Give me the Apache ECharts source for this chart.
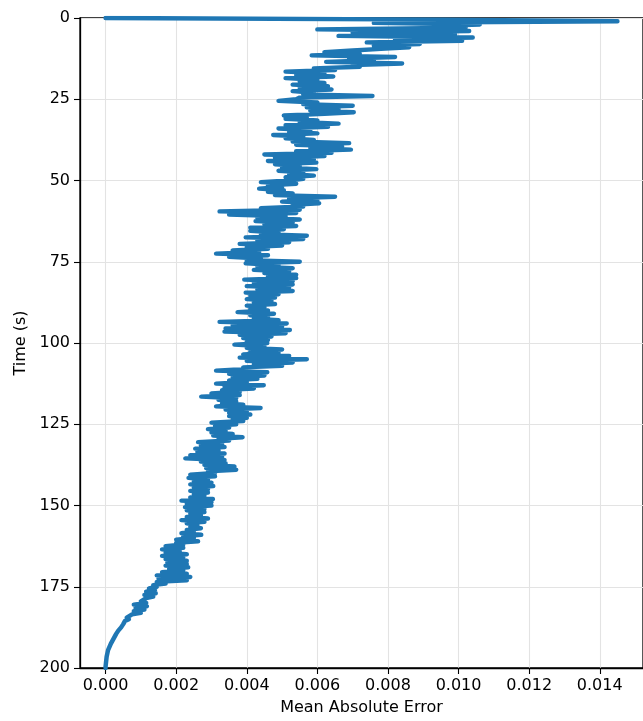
<!DOCTYPE html>
<html>
<head>
<meta charset="utf-8">
<script src="https://cdn.jsdelivr.net/npm/echarts@6/dist/echarts.min.js"></script>
<style>html,body{margin:0;padding:0;background:#fff;overflow:hidden}#c{width:643px;height:721px}</style>
</head>
<body>
<div id="c"></div>
<script>
// Sampling step of the time axis (s)
const timeStep = 0.5;
// Mean absolute error, one value every 0.5 s from t=0 to t=200
const mae = [
0, 0.0096, 0.0145, 0.0076, 0.0106, 0.0093, 0.0102, 0.0060, 0.0103, 0.0070,
0.0099, 0.0066, 0.0104, 0.0082, 0.0101, 0.0074, 0.0089, 0.0076, 0.0086, 0.0078,
0.0070, 0.0062, 0.0072, 0.00584, 0.0082, 0.0069, 0.0076, 0.00625, 0.0084, 0.0070,
0.0072, 0.0059, 0.0065, 0.0051, 0.0062, 0.0054, 0.00645, 0.0051, 0.0060, 0.0055,
0.0062, 0.0053, 0.0063, 0.0055, 0.0064, 0.0053, 0.0059, 0.0056, 0.00756, 0.0055,
0.0054, 0.0049, 0.0060, 0.0056, 0.0070, 0.0057, 0.0066, 0.0058, 0.00703, 0.0062,
0.00505, 0.0057, 0.0051, 0.0060, 0.0055, 0.0066, 0.0051, 0.0063, 0.0049, 0.0058,
0.0052, 0.0060, 0.00475, 0.0056, 0.0051, 0.0059, 0.0053, 0.0069, 0.0054, 0.0067,
0.0058, 0.00695, 0.0054, 0.0064, 0.0045, 0.0062, 0.0048, 0.0059, 0.0046, 0.00597,
0.0048, 0.0055, 0.0050, 0.00597, 0.0049, 0.0056, 0.0052, 0.0059, 0.0051, 0.0056,
0.0052, 0.0044, 0.0054, 0.0046, 0.0050, 0.00435, 0.00505, 0.0046, 0.0053, 0.0048,
0.0065, 0.0052, 0.0060, 0.0050, 0.00605, 0.0053, 0.0056, 0.0044, 0.0055, 0.00323,
0.0054, 0.0035, 0.0051, 0.0043, 0.0055, 0.00425, 0.0053, 0.0045, 0.0054, 0.0041,
0.00505, 0.0041, 0.0049, 0.0044, 0.0057, 0.00397, 0.0056, 0.0043, 0.0052, 0.0038,
0.0050, 0.0040, 0.0046, 0.0036, 0.00435, 0.00313, 0.0046, 0.0035, 0.0044, 0.0040,
0.0055, 0.00397, 0.0049, 0.0043, 0.0053, 0.0042, 0.0052, 0.0045, 0.0054, 0.0046,
0.0054, 0.00393, 0.0053, 0.0042, 0.0053, 0.0040, 0.0052, 0.0043, 0.0053, 0.00397,
0.0049, 0.0041, 0.0048, 0.0040, 0.0047, 0.0042, 0.0048, 0.0040, 0.0045, 0.0041,
0.0046, 0.00374, 0.00477, 0.0041, 0.0046, 0.0042, 0.0049, 0.00323, 0.00513, 0.0036,
0.0050, 0.0034, 0.00522, 0.00337, 0.0051, 0.0038, 0.0047, 0.0039, 0.0046, 0.0040,
0.00458, 0.00365, 0.0045, 0.0040, 0.0050, 0.0041, 0.0049, 0.0039, 0.0052, 0.0038,
0.0057, 0.0040, 0.0053, 0.0042, 0.0050, 0.0039, 0.0040, 0.00313, 0.00458, 0.0035,
0.0045, 0.0036, 0.0043, 0.0035, 0.0040, 0.00313, 0.00448, 0.00337, 0.0042, 0.0033,
0.0038, 0.0030, 0.0038, 0.00271, 0.0037, 0.0032, 0.0037, 0.0033, 0.0039, 0.00313,
0.00439, 0.0034, 0.0040, 0.0035, 0.0041, 0.0035, 0.0040, 0.0036, 0.0039, 0.0030,
0.0037, 0.0031, 0.0035, 0.0029, 0.0034, 0.0030, 0.0036, 0.00305, 0.00388, 0.0032,
0.0035, 0.00262, 0.0033, 0.0027, 0.00337, 0.00254, 0.0032, 0.0026, 0.00337, 0.0024,
0.0033, 0.00226, 0.00337, 0.0027, 0.0034, 0.0028, 0.00365, 0.00285, 0.0037, 0.0029,
0.0031, 0.0024, 0.0031, 0.00235, 0.0029, 0.0025, 0.0030, 0.0024, 0.00305, 0.0025,
0.0029, 0.0024, 0.0029, 0.0025, 0.0028, 0.0024, 0.00304, 0.00215, 0.0030, 0.0023,
0.0030, 0.00225, 0.0028, 0.0023, 0.0028, 0.0024, 0.0027, 0.0023, 0.0029, 0.00215,
0.0028, 0.0023, 0.0026, 0.0024, 0.0027, 0.0023, 0.0025, 0.00215, 0.00271, 0.0022,
0.0025, 0.0020, 0.00262, 0.0020, 0.0022, 0.0017, 0.0022, 0.0016, 0.0021, 0.0017,
0.0023, 0.0016, 0.0022, 0.0017, 0.0023, 0.00175, 0.0023, 0.0017, 0.00234, 0.0018,
0.0022, 0.0016, 0.0023, 0.00145, 0.0024, 0.0015, 0.0023, 0.00145, 0.0017, 0.00135,
0.00145, 0.00123, 0.0014, 0.00115, 0.00142, 0.0011, 0.00135, 0.00115, 0.0012, 0.0010,
0.00115, 0.0008, 0.00117, 0.00085, 0.0011, 0.0008, 0.0010, 0.00075, 0.00072, 0.0006,
0.00066, 0.00055, 0.0006, 0.0005, 0.00048, 0.00044, 0.0004, 0.00036, 0.00033, 0.0003,
0.00028, 0.00025, 0.00022, 0.0002, 0.00017, 0.00015, 0.00013, 0.00011, 0.00009, 0.00007,
0.00006, 0.00005, 0.00004, 0.00003, 0.00002, 0.00002, 0.00001, 0.00001, 0, 0,
0
];
// Tick labels
const xTicks = [0, 0.002, 0.004, 0.006, 0.008, 0.010, 0.012, 0.014];
const yTicks = [0, 25, 50, 75, 100, 125, 150, 175, 200];
const xName = 'Mean Absolute Error';
const yName = 'Time (s)';

const points = mae.map((v, i) => [v, i * timeStep]);
const FONT = 'DejaVu Sans';
const FS = 16;
const chart = echarts.init(document.getElementById('c'), null, {renderer: 'canvas'});
chart.setOption({
  animation: false,
  grid: {left: 80, top: 18, right: -9, bottom: 53, show: true, borderColor: '#000', borderWidth: 1.3, backgroundColor: 'transparent'},
  xAxis: {
    type: 'value', min: -0.000725, max: 0.015225,
    name: xName, nameLocation: 'middle', nameGap: 32,
    nameTextStyle: {fontFamily: FONT, fontSize: FS, color: '#000'},
    axisLine: {show: true, onZero: false, lineStyle: {color: '#000', width: 1.3}},
    axisTick: {show: true, length: 6, customValues: xTicks, lineStyle: {color: '#000', width: 1.1}},
    axisLabel: {customValues: xTicks, fontFamily: FONT, fontSize: FS, color: '#000', margin: 10, formatter: v => v.toFixed(3)},
    splitLine: {show: true, customValues: xTicks, lineStyle: {color: '#e3e3e3', width: 1.1}}
  },
  yAxis: {
    type: 'value', inverse: true, min: 0, max: 200, interval: 25,
    name: yName, nameLocation: 'middle', nameGap: 50,
    nameTextStyle: {fontFamily: FONT, fontSize: FS, color: '#000'},
    axisLine: {show: true, onZero: false, lineStyle: {color: '#000', width: 1.3}},
    axisTick: {show: true, length: 6, customValues: yTicks, lineStyle: {color: '#000', width: 1.1}},
    axisLabel: {customValues: yTicks, fontFamily: FONT, fontSize: FS, color: '#000', margin: 10},
    splitLine: {show: true, lineStyle: {color: '#e3e3e3', width: 1.1}}
  },
  series: [{
    type: 'line', data: points, showSymbol: false, symbol: 'none', clip: true,
    lineStyle: {color: '#1f77b4', width: 4.5, cap: 'round', join: 'round'}
  }]
});
</script>
</body>
</html>
